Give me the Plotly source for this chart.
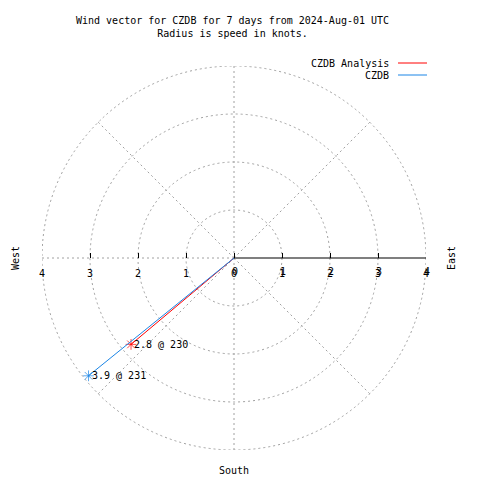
import numpy as np
import plotly.graph_objects as go

# ---- data ----
series_names = ["CZDB Analysis", "CZDB"]
speeds_kt = [2.8, 3.9]
directions_deg = [230, 231]
series_colors = ["#ff0000", "#1a85e6"]

tick_values = [-4, -3, -2, -1, 0, 1, 2, 3, 4]
tick_text = ["4", "3", "2", "1", "0", "1", "2", "3", "4"]
ring_radii = [1, 2, 3, 4]
spoke_angles = [45, 90, 135, 180, 225, 270, 315]

title_lines = ["Wind vector for CZDB for 7 days from 2024-Aug-01 UTC",
               "Radius is speed in knots."]

FONT = "DejaVu Sans Mono"
GRID = "#a0a0a0"
RMAX = 4
DASH = "2px,3px"

fig = go.Figure()

shapes = []
for r in ring_radii:
    shapes.append(dict(type="circle", xref="x", yref="y", x0=-r, y0=-r, x1=r, y1=r,
                       line=dict(color=GRID, width=1, dash=DASH), layer="below"))
for a in spoke_angles:
    t = np.deg2rad(a)
    shapes.append(dict(type="line", xref="x", yref="y", x0=0, y0=0,
                       x1=RMAX * np.cos(t), y1=RMAX * np.sin(t),
                       line=dict(color=GRID, width=1, dash=DASH), layer="below"))
# solid radial axis line
shapes.append(dict(type="line", xref="x", yref="y", x0=0, y0=0, x1=RMAX, y1=0,
                   line=dict(color="black", width=1.2), layer="below"))

annotations = []
for name, spd, d, col in zip(series_names, speeds_kt, directions_deg, series_colors):
    t = np.deg2rad(d)
    x = spd * np.sin(t)
    y = spd * np.cos(t)
    fig.add_trace(go.Scatter(
        x=[0, x], y=[0, y], mode="lines+markers", name=name, showlegend=False,
        line=dict(color=col, width=1),
        marker=dict(symbol="asterisk-open", size=[0, 9], color=col, line=dict(color=col, width=1)),
        hoverinfo="skip"))
    annotations.append(dict(x=x, y=y, xref="x", yref="y", text=f"{spd} @ {d}",
                            showarrow=False, xanchor="left", yanchor="middle", xshift=1,
                            font=dict(family=FONT, size=10, color="black")))

# tick labels along the horizontal line
for v, txt in zip(tick_values, tick_text):
    annotations.append(dict(x=v, y=0, xref="x", yref="y", text=txt, showarrow=False,
                            xanchor="center", yanchor="middle", yshift=-15,
                            font=dict(family=FONT, size=10, color="black")))
    if v >= 0:
        annotations.append(dict(x=v, y=0, xref="x", yref="y", text=txt, showarrow=False,
                                xanchor="center", yanchor="middle", yshift=-13, xshift=1,
                                font=dict(family=FONT, size=10, color="black")))

def px2paper_x(px):
    return (px - 42) / 384.0

def px2paper_y(py):
    return (450 - py) / 384.0

# compass labels
annotations.append(dict(x=px2paper_x(15), y=0.5, xref="paper", yref="paper", text="West",
                        textangle=-90, showarrow=False, xanchor="center", yanchor="middle",
                        font=dict(family=FONT, size=10, color="black")))
annotations.append(dict(x=px2paper_x(451), y=0.5, xref="paper", yref="paper", text="East",
                        textangle=-90, showarrow=False, xanchor="center", yanchor="middle",
                        font=dict(family=FONT, size=10, color="black")))
annotations.append(dict(x=0.5, y=px2paper_y(470), xref="paper", yref="paper", text="South",
                        showarrow=False, xanchor="center", yanchor="middle",
                        font=dict(family=FONT, size=10, color="black")))
# title
annotations.append(dict(x=px2paper_x(232), y=px2paper_y(26.5), xref="paper", yref="paper",
                        text="<br>".join(title_lines), showarrow=False, align="center",
                        xanchor="center", yanchor="middle",
                        font=dict(family=FONT, size=10, color="black")))
# manual legend (text left of line sample, gnuplot style)
for i, (name, col) in enumerate(zip(series_names, series_colors)):
    py = 63 + 12 * i
    annotations.append(dict(x=px2paper_x(391), y=px2paper_y(py), xref="paper", yref="paper",
                            text=name, showarrow=False, xanchor="right", yanchor="middle",
                            font=dict(family=FONT, size=10, color="black")))
    shapes.append(dict(type="line", xref="paper", yref="paper",
                       x0=px2paper_x(398), x1=px2paper_x(427), y0=px2paper_y(py), y1=px2paper_y(py),
                       line=dict(color=col, width=1)))

# page body has an 8px margin, so the figure is sized/offset to compensate
fig.update_layout(
    width=472, height=472, autosize=False,
    margin=dict(l=34, r=54, t=58, b=30, pad=0),
    paper_bgcolor="white", plot_bgcolor="white",
    showlegend=False,
    shapes=shapes, annotations=annotations,
    xaxis=dict(range=[-RMAX, RMAX], anchor="free", position=0.5,
               showgrid=False, zeroline=False, showline=False,
               tickvals=tick_values, ticktext=["" for _ in tick_text],
               ticks="inside", ticklen=5, tickcolor="black", tickwidth=1,
               fixedrange=True),
    yaxis=dict(range=[-RMAX, RMAX], visible=False, showgrid=False, zeroline=False,
               fixedrange=True),
)

fig.write_html("out.html")
